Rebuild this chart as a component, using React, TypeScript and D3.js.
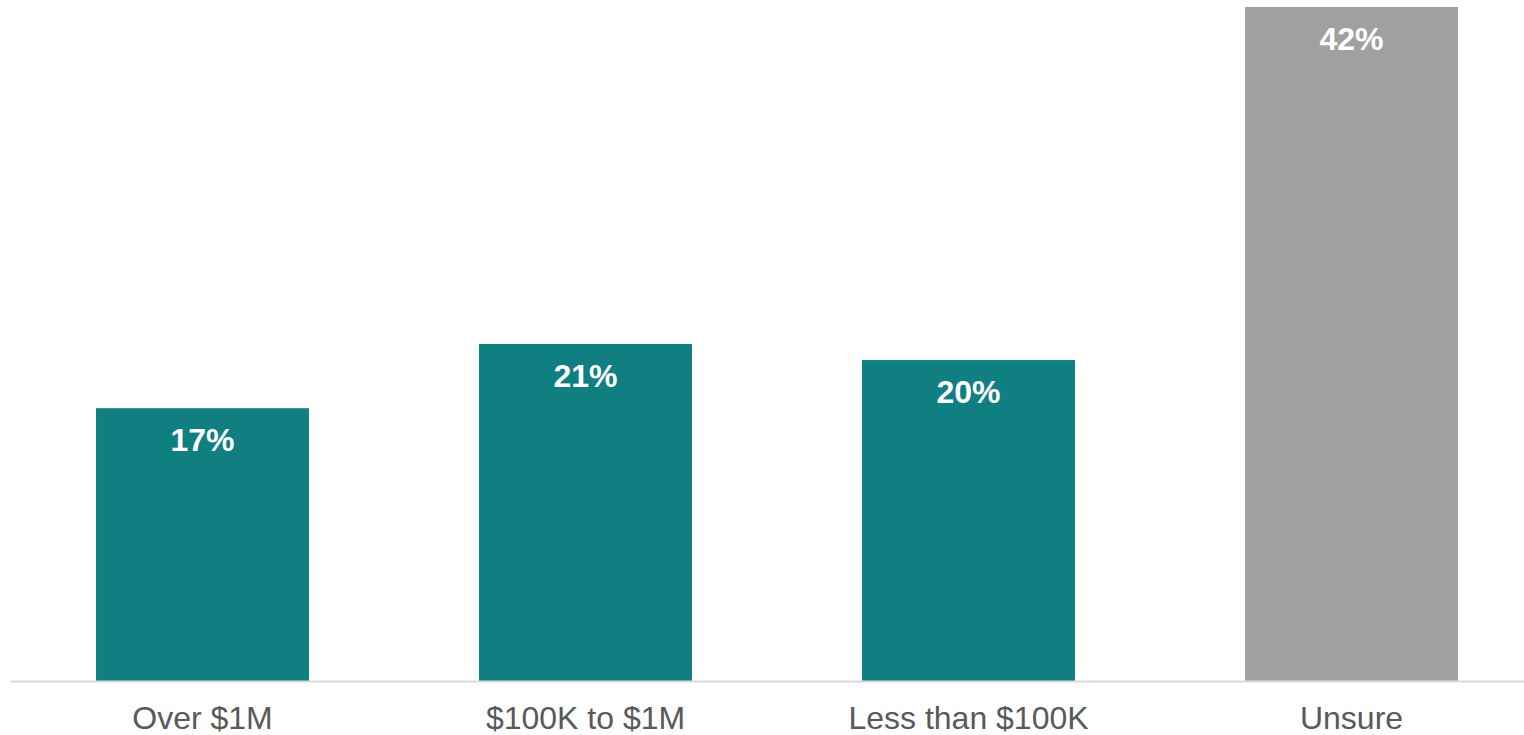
import React from "react";
import * as d3 from "d3";

const categories = ["Over $1M", "$100K to $1M", "Less than $100K", "Unsure"];
const values = [17, 21, 20, 42];
const labels = ["17%", "21%", "20%", "42%"];
const colors = ["#0F7F82", "#0F7F82", "#0F7F82", "#A0A0A0"];

const W = 1524;
const H = 735;

export default function App() {
  const x = d3.scaleBand<string>().domain(categories).range([11, 1543]).paddingInner(0.444).paddingOuter(0.222);
  const baseline = 681;
  const y = d3.scaleLinear().domain([0, 42]).range([baseline, 7]);
  const font = "'Liberation Sans', Arial, sans-serif";
  return (
    <svg width={W} height={H} style={{ position: "fixed", left: 0, top: 0 }}>
      <rect x={0} y={0} width={W} height={H} fill="#fff" />
      {categories.map((c, i) => (
        <g key={c}>
          <rect x={x(c)} y={y(values[i])} width={x.bandwidth()} height={baseline - y(values[i])} fill={colors[i]} />
          <text x={(x(c) as number) + x.bandwidth() / 2} y={y(values[i]) + 43} textAnchor="middle" fill="#fff" fontFamily={font} fontWeight="bold" fontSize={32}>{labels[i]}</text>
          <text x={(x(c) as number) + x.bandwidth() / 2} y={729} textAnchor="middle" fill="#595959" fontFamily={font} fontSize={32}>{c}</text>
        </g>
      ))}
      <line x1={11} x2={1543} y1={baseline + 0.5} y2={baseline + 0.5} stroke="#D9D9D9" strokeWidth={2} />
    </svg>
  );
}
